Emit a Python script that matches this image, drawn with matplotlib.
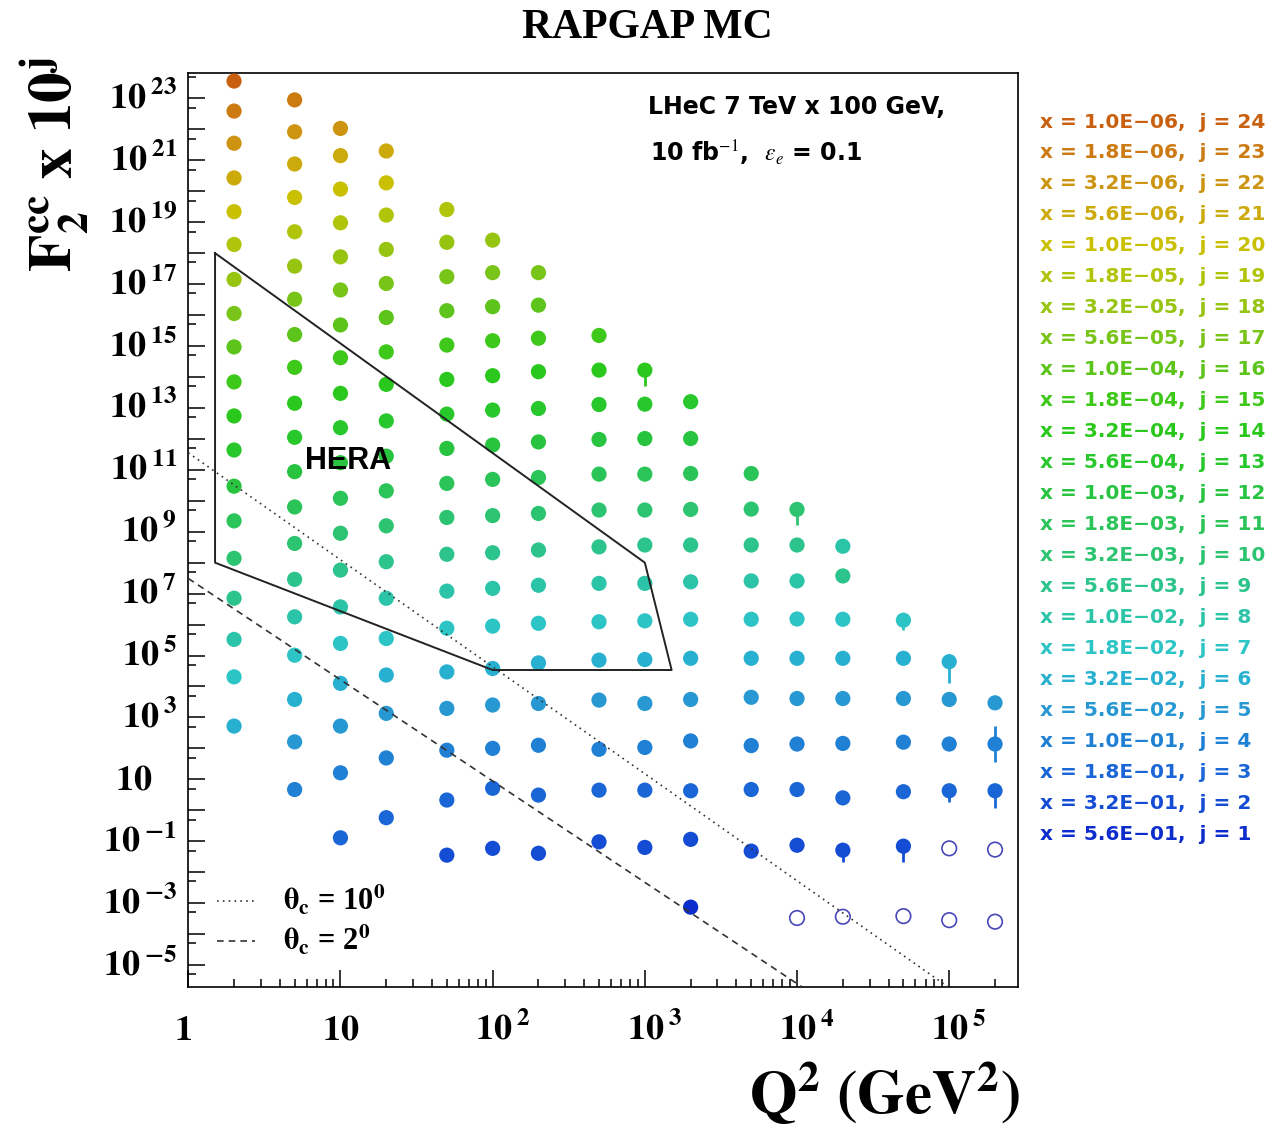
import numpy as np
import matplotlib.pyplot as plt
from matplotlib.ticker import FixedLocator, NullFormatter
from matplotlib.transforms import offset_copy

plt.rcParams['mathtext.fontset'] = 'stix'
plt.rcParams['font.family'] = ['Liberation Sans', 'DejaVu Sans']

# Q2 bin centres (GeV^2) and the highest j filled in each of them
q2_bins = [2, 5, 10, 20, 50, 100, 200, 500, 1000, 2000,
           5000, 10000, 20000, 50000, 100000, 200000]
j_top = [24, 23, 22, 21, 19, 18, 17, 15, 14, 13, 11, 10, 9, 7, 6, 5]

# log10(F2cc x 10^j) in each Q2 bin, from j_top downwards
lg_q2_2 = [23.56, 22.59, 21.55, 20.43, 19.34, 18.28, 17.15, 16.05, 14.97, 13.84,
           12.74, 11.64, 10.47, 9.35, 8.14, 6.85, 5.52, 4.31, 2.72]
lg_q2_5 = [22.95, 21.92, 20.88, 19.80, 18.69, 17.58, 16.51, 15.37, 14.31, 13.15,
           12.05, 10.94, 9.80, 8.62, 7.46, 6.25, 5.01, 3.58, 2.21, 0.67]
lg_q2_10 = [22.03, 21.15, 20.07, 18.98, 17.88, 16.81, 15.68, 14.62, 13.47, 12.36,
            11.23, 10.08, 8.95, 7.76, 6.57, 5.39, 4.10, 2.72, 1.21, -0.89]
lg_q2_20 = [21.30, 20.27, 19.23, 18.12, 17.02, 15.92, 14.81, 13.76, 12.58, 11.44,
            10.32, 9.19, 8.03, 6.85, 5.55, 4.37, 3.13, 1.69, -0.24]
lg_q2_50 = [19.41, 18.35, 17.24, 16.14, 15.03, 13.92, 12.80, 11.69, 10.56, 9.46,
            8.27, 7.08, 5.88, 4.47, 3.29, 1.94, 0.33, -1.45]
lg_q2_100 = [18.42, 17.37, 16.27, 15.17, 14.04, 12.93, 11.80, 10.69, 9.52, 8.32,
             7.17, 5.95, 4.58, 3.40, 2.00, 0.71, -1.23]
lg_q2_200 = [17.37, 16.32, 15.25, 14.17, 12.98, 11.90, 10.75, 9.59, 8.41, 7.27,
             6.04, 4.76, 3.45, 2.10, 0.49, -1.39]
lg_q2_500 = [15.34, 14.22, 13.11, 11.98, 10.86, 9.70, 8.51, 7.33, 6.09, 4.85,
             3.56, 1.97, 0.65, -1.02]
lg_q2_1000 = [14.22, 13.12, 12.01, 10.86, 9.70, 8.57, 7.33, 6.12, 4.87, 3.45,
              2.03, 0.65, -1.20]
lg_q2_2000 = [13.20, 12.01, 10.88, 9.72, 8.57, 7.38, 6.17, 4.91, 3.58, 2.24,
              0.63, -0.94, -3.13]
lg_q2_5000 = [10.88, 9.73, 8.57, 7.41, 6.17, 4.91, 3.65, 2.09, 0.67, -1.32]
lg_q2_1e4 = [9.72, 8.57, 7.41, 6.18, 4.91, 3.61, 2.14, 0.67, -1.13, -3.48]
lg_q2_2e4 = [7.57, 8.53, 6.17, 4.91, 3.61, 2.16, 0.40, -1.29, -3.44]
lg_q2_5e4 = [6.14, 4.91, 3.61, 2.20, 0.60, -1.16, -3.42]
lg_q2_1e5 = [4.80, 3.58, 2.14, 0.63, -1.23, -3.55]
lg_q2_2e5 = [3.47, 2.14, 0.63, -1.27, -3.60]

lg_cols = [lg_q2_2, lg_q2_5, lg_q2_10, lg_q2_20, lg_q2_50, lg_q2_100, lg_q2_200,
           lg_q2_500, lg_q2_1000, lg_q2_2000, lg_q2_5000, lg_q2_1e4, lg_q2_2e4,
           lg_q2_5e4, lg_q2_1e5, lg_q2_2e5]

# bins with no measurement (drawn as open circles)
open_q2 = [10000, 20000, 50000, 100000, 100000, 200000, 200000]
open_j = [1, 1, 1, 2, 1, 2, 1]

# visible error bars, in decades below / above the point
err_q2 = [1000, 10000, 50000, 100000, 200000, 200000, 100000, 20000, 50000]
err_j = [14, 10, 7, 6, 4, 3, 3, 2, 2]
err_dn = [0.50, 0.49, 0.32, 0.68, 0.59, 0.56, 0.36, 0.38, 0.51]
err_up = [0.20, 0.20, 0.15, 0.25, 0.59, 0.20, 0.15, 0.15, 0.20]

# x bin centres, index j-1
x_bins = ['5.6E\u221201', '3.2E\u221201', '1.8E\u221201', '1.0E\u221201',
          '5.6E\u221202', '3.2E\u221202', '1.8E\u221202', '1.0E\u221202',
          '5.6E\u221203', '3.2E\u221203', '1.8E\u221203', '1.0E\u221203',
          '5.6E\u221204', '3.2E\u221204', '1.8E\u221204', '1.0E\u221204',
          '5.6E\u221205', '3.2E\u221205', '1.8E\u221205', '1.0E\u221205',
          '5.6E\u221206', '3.2E\u221206', '1.8E\u221206', '1.0E\u221206']

# HERA region outline
hera_q2 = [1.5, 1.5, 100, 1500, 1000, 1.5]
hera_f2 = [1e18, 1e8, 3.4e4, 3.4e4, 1e8, 1e18]

# acceptance lines for electron angle 10 and 2 degrees
theta10_q2 = [1, 10**4.99]
theta10_f2 = [10**11.55, 10**-5.70]
theta2_q2 = [1, 10**4.03]
theta2_f2 = [10**7.49, 10**-5.70]

colors = ['#0c2ccc', '#144cd4', '#1a66d6', '#2080d4', '#2898d2', '#28b0d0',
          '#2cc4c4', '#2cc4a8', '#2cc48c', '#2cc470', '#2ac458', '#28c440',
          '#28c82c', '#2ac81c', '#3ec81a', '#5cc41a', '#78c418', '#96c410',
          '#b0c40a', '#c8c000', '#ccaa0c', '#cc9410', '#cc7a12', '#c8600f']

fig = plt.figure(figsize=(12.72, 11.27), dpi=100)
ax = fig.add_axes([0.1480, 0.1245, 0.6523, 0.8110])
ax.set_xscale('log')
ax.set_yscale('log')
ax.set_xlim(1, 2.83e5)
ax.set_ylim(10**-5.70, 10**23.83)

open_set = set(zip(open_q2, open_j))
fx, fy, fc, ox, oy = [], [], [], [], []
pos = {}
for q2, jt, lg in zip(q2_bins, j_top, lg_cols):
    for k, v in enumerate(lg):
        j = jt - k
        pos[(q2, j)] = 10.0 ** v
        if (q2, j) in open_set:
            ox.append(q2)
            oy.append(10.0 ** v)
        else:
            fx.append(q2)
            fy.append(10.0 ** v)
            fc.append(colors[j - 1])

for q2, j, dn, up in zip(err_q2, err_j, err_dn, err_up):
    y = pos[(q2, j)]
    ax.vlines(q2, y * 10 ** -dn, y * 10 ** up, colors=colors[j - 1], lw=2.0, zorder=2)

ax.scatter(fx, fy, s=120, c=fc, edgecolors='none', zorder=3)
ax.scatter(ox, oy, s=110, facecolors='none', edgecolors='#4848b8', linewidths=1.2, zorder=3)

ax.plot(hera_q2, hera_f2, color='#222222', lw=1.4, zorder=4)
ax.plot(theta10_q2, theta10_f2, color='#333333', lw=1.2, ls=(0, (1, 2.5)), zorder=4)
ax.plot(theta2_q2, theta2_f2, color='#333333', lw=1.2, ls=(0, (4, 3)), zorder=4)

# ticks: inside, only on the left and bottom axes
ax.xaxis.set_major_locator(FixedLocator(10.0 ** np.arange(0, 6)))
ax.xaxis.set_minor_locator(FixedLocator([m * 10.0 ** n for n in range(0, 6)
                                         for m in range(2, 10)]))
ax.yaxis.set_major_locator(FixedLocator(10.0 ** np.arange(-5, 24)))
ax.yaxis.set_minor_locator(FixedLocator(5 * 10.0 ** np.arange(-6, 24)))
for axis in (ax.xaxis, ax.yaxis):
    axis.set_major_formatter(NullFormatter())
    axis.set_minor_formatter(NullFormatter())
ax.tick_params(which='both', direction='in', top=False, right=False)
ax.tick_params(which='major', length=12, width=1.1)
ax.tick_params(which='minor', length=5.5, width=1.1)
for sp in ax.spines.values():
    sp.set_linewidth(1.2)

xtr = ax.get_xaxis_transform()
for e in range(0, 6):
    if e == 0:
        s, ha, dx = r'$\mathbf{1}$', 'center', -5
    elif e == 1:
        s, ha, dx = r'$\mathbf{10}$', 'center', 0
    else:
        s, ha, dx = r'$\mathbf{10^{\;%d}}$' % e, 'left', -18
    ax.text(10.0 ** e, 0, s, ha=ha, va='baseline', fontsize=26,
            transform=offset_copy(xtr, fig=fig, x=dx, y=-53, units='dots'))

ytr = ax.get_yaxis_transform()
for e in range(-5, 24, 2):
    if e == 1:
        s, dx = r'$\mathbf{10}$', -36
    elif e < 0:
        s, dx = r'$\mathbf{10^{\;{-}%d}}$' % -e, -11
    else:
        s, dx = r'$\mathbf{10^{\;%d}}$' % e, -11
    ax.text(0, 10.0 ** e, s, ha='right', va='baseline', fontsize=26,
            transform=offset_copy(ytr, fig=fig, x=dx, y=-10, units='dots'))

fig.text(55 / 1272, 1 - 165 / 1127, r'$\mathbf{F_{2}^{cc}\ x\ 10^{j}}$',
         rotation=90, ha='center', va='center', fontsize=44)
fig.text(1020 / 1272, 1 - 1095 / 1127, r'$\mathbf{Q^{2}\ (GeV^{2})}$',
         ha='right', va='center', fontsize=44)
fig.text(0.509, 1 - 28 / 1127, 'RAPGAP MC', family='Liberation Serif',
         weight='bold', fontsize=30, ha='center', va='center')

ax.text(0.554, 0.9625, 'LHeC 7 TeV x 100 GeV,', transform=ax.transAxes,
        family='DejaVu Sans', weight='bold', fontsize=17, ha='left', va='center')
ax.text(0.556, 0.9121, r'10 fb$^{-1}$,  $\epsilon_e$ = 0.1', transform=ax.transAxes,
        family='DejaVu Sans', weight='bold', fontsize=17, ha='left', va='center')
ax.text(0.1925, 0.5752, 'HERA', transform=ax.transAxes, weight='bold',
        fontsize=22, ha='center', va='center', zorder=5)

# angle legend
ax.plot([0.0348, 0.0807], [0.0941, 0.0941], transform=ax.transAxes,
        color='#333333', lw=1.2, ls=(0, (1, 2.5)))
ax.plot([0.0348, 0.0807], [0.0503, 0.0503], transform=ax.transAxes,
        color='#333333', lw=1.2, ls=(0, (4, 3)))
ax.text(0.114, 0.0941, r'$\mathbf{\theta_{c}}$ = 10$^{\mathbf{0}}$', transform=ax.transAxes,
        family='Liberation Serif', weight='bold', fontsize=22, ha='left', va='center')
ax.text(0.114, 0.0503, r'$\mathbf{\theta_{c}}$ = 2$^{\mathbf{0}}$', transform=ax.transAxes,
        family='Liberation Serif', weight='bold', fontsize=22, ha='left', va='center')

# x bin key on the right
for j in range(24, 0, -1):
    ypx = 122 + (24 - j) * 30.97
    fig.text(1040 / 1272, 1 - ypx / 1127, 'x = %s,  j = %d' % (x_bins[j - 1], j),
             color=colors[j - 1], family='DejaVu Sans', weight='bold', fontsize=14.5,
             ha='left', va='center')

fig.savefig('out.png', dpi=100)
